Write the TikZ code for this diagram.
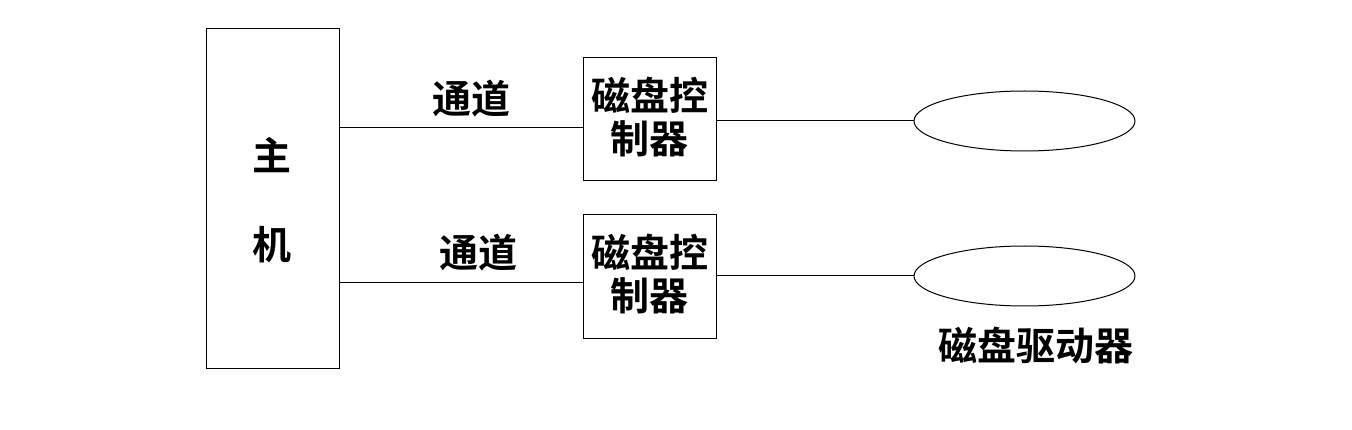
\documentclass[tikz,border=0pt]{standalone}
\usepackage{fontspec}
\usetikzlibrary{shapes.geometric}
\newfontfamily\cjk{Noto Sans CJK SC Bold}
\begin{document}
\begin{tikzpicture}[x=1pt,y=-1pt,
  box/.style={draw,line width=1pt,inner sep=0pt},
  lbl/.style={font=\cjk\fontsize{39}{43}\selectfont,inner sep=0pt,align=center},
  link/.style={line width=1pt}]
\useasboundingbox (0,0) rectangle (1352,430);
\node[box,minimum width=133pt,minimum height=339pt] (host) at (272.5,198.5) {};
\node[lbl] (zhu) at (272,155) {主};
\node[lbl] (ji) at (272,245) {机};
\node[box,minimum width=133pt,minimum height=123pt] (c1) at (649.5,119.5) {};
\node[lbl] at (649.5,117) {磁盘控\\制器};
\node[box,minimum width=133pt,minimum height=123pt] (c2) at (649.5,276.5) {};
\node[lbl] at (649.5,274) {磁盘控\\制器};
\node[draw,line width=1pt,ellipse,minimum width=221pt,minimum height=60pt,inner sep=0pt] (d1) at (1024.5,121) {};
\node[draw,line width=1pt,ellipse,minimum width=221pt,minimum height=60pt,inner sep=0pt] (d2) at (1024.5,276) {};
\coordinate (h1) at (339,128);
\coordinate (h2) at (339,283);
\draw[link] (h1) -- (c1.west |- h1);
\draw[link] (h2) -- (c2.west |- h2);
\draw[link] (c1.east |- d1.west) -- (d1.west);
\draw[link] (c2.east |- d2.west) -- (d2.west);
\node[lbl] (t1) at (471,99) {通道};
\node[lbl] (t2) at (478,253) {通道};
\node[lbl] (dd) at (1036,346) {磁盘驱动器};
\end{tikzpicture}
\end{document}
